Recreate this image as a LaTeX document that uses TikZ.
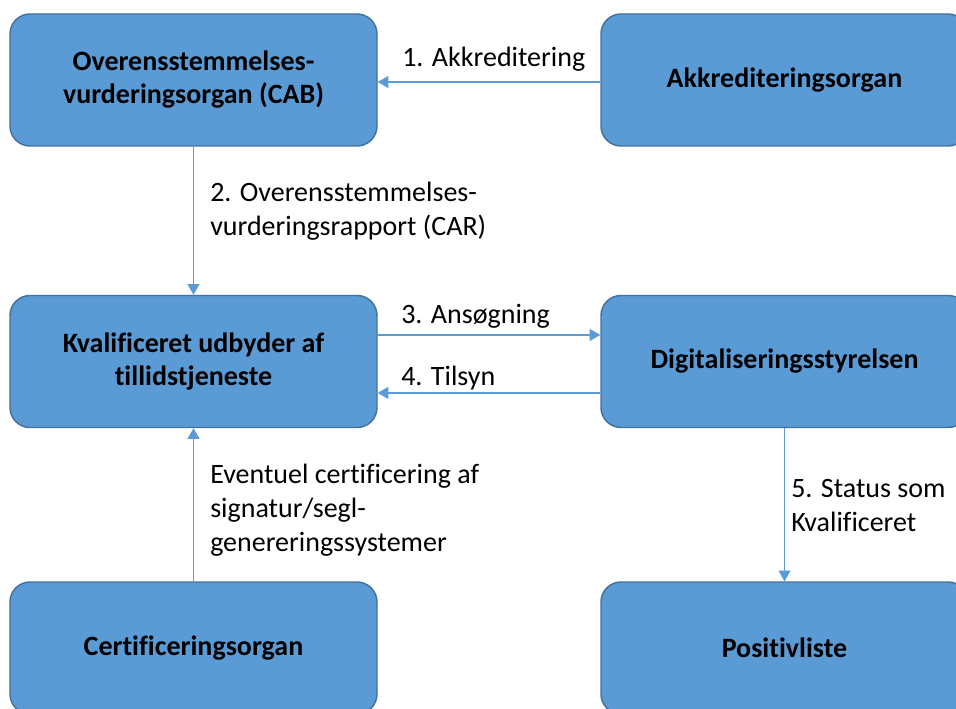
\documentclass[tikz,border=0pt]{standalone}
\usepackage{fontspec}
\setmainfont{Carlito}[Ligatures=CommonOff]
\usetikzlibrary{arrows.meta}
\definecolor{boxfill}{HTML}{5B9BD5}
\definecolor{boxline}{HTML}{41719C}
\definecolor{conncol}{HTML}{5B9BD5}
\begin{document}
\begin{tikzpicture}[x=0.75pt,y=-0.75pt,
  box/.style={draw=boxline, line width=1.1pt, fill=boxfill, rounded corners=15pt,
    minimum width=275.25pt, minimum height=99pt, inner sep=0pt,
    font=\fontsize{21}{24.75}\selectfont\bfseries, align=center, text=black},
  conn/.style={draw=conncol, line width=0.9pt, -{Triangle[length=8pt,width=9pt]}},
  lbl/.style={font=\fontsize{21}{25.5}\selectfont, align=left, inner sep=0pt, text=black}]
\useasboundingbox (0,0) rectangle (956,709);
\clip (0,0) rectangle (956,709);
\fill[white] (0,0) rectangle (956,709);

\node[box] (cab) at (193.5,80) {Overensstemmelses-\\vurderingsorgan (CAB)};
\node[box] (akk) at (784.5,80) {Akkrediteringsorgan};
\node[box] (kval) at (193.5,361.5) {Kvalificeret udbyder af\\tillidstjeneste};
\node[box] (digi) at (784.5,361.5) {Digitaliseringsstyrelsen};
\node[box] (cert) at (193.5,648) {Certificeringsorgan};
\node[box] (pos) at (784.5,648) {Positivliste};

\draw[conn] ([yshift=-1.5pt]akk.west) -- ([yshift=-1.5pt]cab.east);
\draw[conn] (cab) -- (kval);
\draw[conn] ([yshift=19.9pt]kval.east) -- ([yshift=19.9pt]digi.west);
\draw[conn] ([yshift=-23.6pt]digi.west) -- ([yshift=-23.6pt]kval.east);
\draw[conn] (digi) -- (pos);
\draw[conn] (cert) -- (kval);

\node[lbl, anchor=base west] (l1) at (402,67) {1. Akkreditering};
\node[lbl, anchor=west] (l2) at (210,211) {2. Overensstemmelses-\\vurderingsrapport (CAR)};
\node[lbl, anchor=base west] (l3) at (401,323) {3. Ansøgning};
\node[lbl, anchor=base west] (l4) at (401,385) {4. Tilsyn};
\node[lbl, anchor=west] (l6) at (210,510) {Eventuel certificering af\\signatur/segl-\\genereringssystemer};
\node[lbl, anchor=west] (l5) at (791,506) {5. Status som\\Kvalificeret};
\end{tikzpicture}
\end{document}
